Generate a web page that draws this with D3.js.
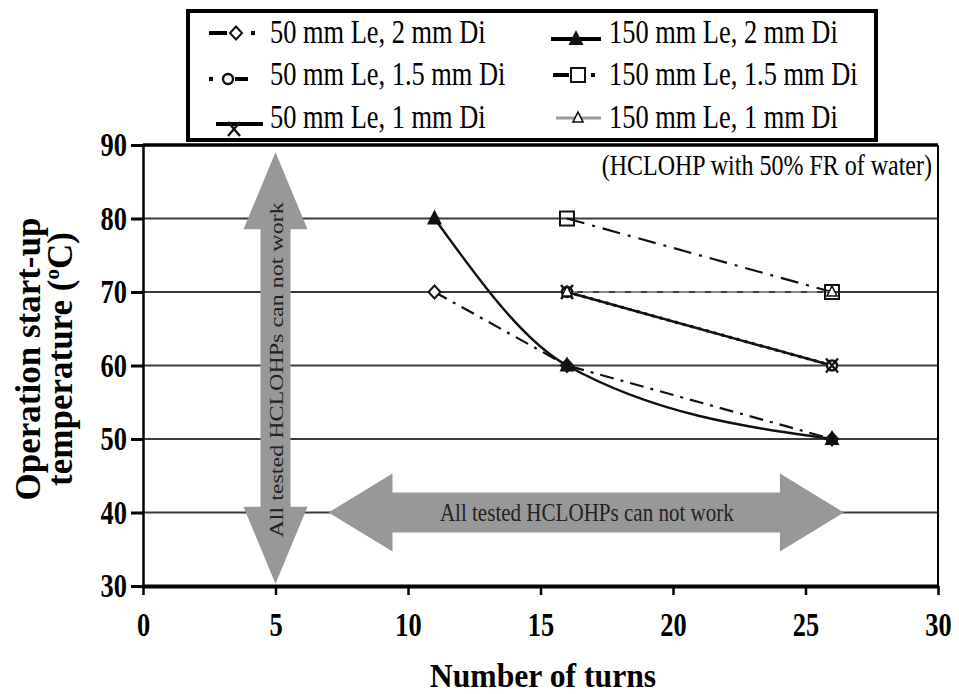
<!DOCTYPE html>
<html>
<head>
<meta charset="utf-8">
<script src="https://cdn.jsdelivr.net/npm/d3@7"></script>
<style>
  body { margin: 0; background: #fff; }
  svg { font-family: "Liberation Serif", "Times New Roman", serif; }
</style>
</head>
<body>
<div id="chart"></div>
<script>
// data
const xTicks = [0, 5, 10, 15, 20, 25, 30];
const yTicks = [30, 40, 50, 60, 70, 80, 90];
const turnsThree = [11, 16, 26];
const turnsTwo = [16, 26];
const le50di2 = [70, 60, 50];
const le150di2 = [80, 60, 50];
const le50di15 = [70, 60];
const le150di15 = [80, 70];
const le50di1 = [70, 60];
const le150di1 = [70, 70];
const seriesNames = ["50 mm Le, 2 mm Di", "150 mm Le, 2 mm Di",
  "50 mm Le, 1.5 mm Di", "150 mm Le, 1.5 mm Di",
  "50 mm Le, 1 mm Di", "150 mm Le, 1 mm Di"];
const arrowText = "All tested HCLOHPs can not work";

const svgWidth = 959;
const svgHeight = 694;
const margin = { top: 145, right: 21, bottom: 108, left: 143 };
const width = svgWidth - margin.left - margin.right;
const height = svgHeight - margin.top - margin.bottom;

// the original figure is squeezed sideways, so horizontal text is narrowed
const squeeze = 0.8;

const svg = d3.select("#chart").append("svg")
  .attr("width", svgWidth)
  .attr("height", svgHeight);

const chartGroup = svg.append("g")
  .attr("transform", `translate(${margin.left}, ${margin.top})`);

const x = d3.scaleLinear().domain([0, 30]).range([0, width]);
const y = d3.scaleLinear().domain([30, 90]).range([height, 0]);

// gridlines
chartGroup.selectAll(".grid")
  .data(yTicks.filter(d => d > 30 && d < 90))
  .enter().append("line")
  .attr("x1", 0).attr("x2", width)
  .attr("y1", d => y(d)).attr("y2", d => y(d))
  .attr("stroke", "#3a3a3a").attr("stroke-width", 2);

// grey double arrows
function vArrow(cx, yTop, yBot) {
  const px = x(cx), t = y(yTop), b = y(yBot);
  const sw = 15, hw = 32, hl = 77;
  return `M${px},${t} L${px + hw},${t + hl} L${px + sw},${t + hl} L${px + sw},${b - hl} L${px + hw},${b - hl} ` +
    `L${px},${b} L${px - hw},${b - hl} L${px - sw},${b - hl} L${px - sw},${t + hl} L${px - hw},${t + hl} Z`;
}
function hArrow(cy, xl, xr) {
  const py = y(cy), l = x(xl), r = x(xr);
  const sw = 20, hw = 39, hl = 64;
  return `M${l},${py} L${l + hl},${py - hw} L${l + hl},${py - sw} L${r - hl},${py - sw} L${r - hl},${py - hw} ` +
    `L${r},${py} L${r - hl},${py + hw} L${r - hl},${py + sw} L${l + hl},${py + sw} L${l + hl},${py + hw} Z`;
}
chartGroup.append("path").attr("d", vArrow(5, 89.0, 30.3)).attr("fill", "#989898");
chartGroup.append("path").attr("d", hArrow(40, 7.0, 26.45)).attr("fill", "#989898");

chartGroup.append("text")
  .attr("transform", `translate(${x(5) + 7}, ${y(59.4)}) scale(${squeeze},1) rotate(-90)`)
  .attr("text-anchor", "middle")
  .attr("font-size", 24)
  .attr("fill", "#222")
  .text(arrowText);
chartGroup.append("text")
  .attr("transform", `translate(${x(16.75)}, ${y(40) + 8}) scale(0.81,1)`)
  .attr("text-anchor", "middle")
  .attr("font-size", 26)
  .attr("fill", "#222")
  .text(arrowText);

// series
const series = [
  { name: seriesNames[0], xs: turnsThree, ys: le50di2, dash: "14,7,3,7", color: "#111", w: 2.2, curve: d3.curveLinear, mark: "diamond" },
  { name: seriesNames[1], xs: turnsThree, ys: le150di2, dash: null, color: "#111", w: 2.4, curve: d3.curveMonotoneX, mark: "triFill" },
  { name: seriesNames[2], xs: turnsTwo, ys: le50di15, dash: "3,5", color: "#111", w: 3, curve: d3.curveLinear, mark: "circle" },
  { name: seriesNames[3], xs: turnsTwo, ys: le150di15, dash: "18,8,3,8", color: "#111", w: 2.2, curve: d3.curveLinear, mark: "square" },
  { name: seriesNames[4], xs: turnsTwo, ys: le50di1, dash: null, color: "#111", w: 2.4, curve: d3.curveLinear, mark: "cross" },
  { name: seriesNames[5], xs: turnsTwo, ys: le150di1, dash: "10,6", color: "#888", w: 2, curve: d3.curveLinear, mark: "triOpen" }
];

function drawMark(g, type, px, py) {
  if (type === "diamond") {
    g.append("path").attr("d", `M${px},${py - 6.5} L${px + 6},${py} L${px},${py + 6.5} L${px - 6},${py} Z`)
      .attr("fill", "#fff").attr("stroke", "#111").attr("stroke-width", 2);
  } else if (type === "triFill") {
    g.append("path").attr("d", `M${px},${py - 9} L${px + 7.5},${py + 6} L${px - 7.5},${py + 6} Z`)
      .attr("fill", "#111");
  } else if (type === "circle") {
    g.append("circle").attr("cx", px).attr("cy", py).attr("r", 5)
      .attr("fill", "#fff").attr("stroke", "#111").attr("stroke-width", 2.4);
  } else if (type === "square") {
    g.append("rect").attr("x", px - 7).attr("y", py - 7).attr("width", 14).attr("height", 14)
      .attr("fill", "#fff").attr("stroke", "#111").attr("stroke-width", 2);
  } else if (type === "cross") {
    g.append("path").attr("d", `M${px - 6},${py - 7} L${px + 6},${py + 7} M${px + 6},${py - 7} L${px - 6},${py + 7}`)
      .attr("stroke", "#111").attr("stroke-width", 2.4);
  } else if (type === "triOpen") {
    g.append("path").attr("d", `M${px},${py - 6} L${px + 5},${py + 4} L${px - 5},${py + 4} Z`)
      .attr("fill", "#fff").attr("stroke", "#111").attr("stroke-width", 1.6);
  }
}

const line = d3.line();
series.forEach(s => {
  const pts = s.xs.map((d, i) => [x(d), y(s.ys[i])]);
  chartGroup.append("path")
    .attr("d", line.curve(s.curve)(pts))
    .attr("fill", "none")
    .attr("stroke", s.color)
    .attr("stroke-width", s.w)
    .attr("stroke-dasharray", s.dash);
});
series.forEach(s => {
  s.xs.forEach((d, i) => {
    if (s.mark === "square") {
      chartGroup.append("rect")
        .attr("x", x(d) - 7).attr("y", y(s.ys[i]) - 7).attr("width", 14).attr("height", 14)
        .attr("fill", "none").attr("stroke", "#111").attr("stroke-width", 2);
    } else {
      drawMark(chartGroup, s.mark, x(d), y(s.ys[i]));
    }
  });
});

// frame
chartGroup.append("line").attr("x1", 0).attr("x2", width).attr("y1", 0).attr("y2", 0)
  .attr("stroke", "#000").attr("stroke-width", 3.5);
chartGroup.append("line").attr("x1", width).attr("x2", width).attr("y1", 0).attr("y2", height)
  .attr("stroke", "#000").attr("stroke-width", 2);

// axes
const bottomAxis = d3.axisBottom(x).tickValues(xTicks).tickSize(9).tickSizeOuter(0);
const leftAxis = d3.axisLeft(y).tickValues(yTicks).tickSize(12).tickSizeOuter(0).tickPadding(8);

const xAxis = chartGroup.append("g")
  .attr("transform", `translate(0, ${height})`)
  .call(bottomAxis);
xAxis.select(".domain").attr("stroke-width", 4);
xAxis.selectAll(".tick line").attr("stroke-width", 2.5);

const yAxis = chartGroup.append("g").call(leftAxis);
yAxis.select(".domain").attr("stroke-width", 2.5);
yAxis.selectAll(".tick line").attr("stroke-width", 3);

svg.selectAll(".tick text")
  .attr("font-family", "Liberation Serif")
  .attr("font-weight", "bold")
  .attr("font-size", 33)
  .attr("fill", "#000")
  .attr("transform", `scale(${squeeze},1)`);
xAxis.selectAll(".tick text").attr("y", 50).attr("dy", 0);

// axis titles
svg.append("text")
  .attr("transform", "translate(543, 687) scale(0.96,1)")
  .attr("text-anchor", "middle")
  .attr("font-weight", "bold").attr("font-size", 33)
  .text("Number of turns");

const yTitle = svg.append("text")
  .attr("transform", "translate(0, 359) rotate(-90)")
  .attr("text-anchor", "middle")
  .attr("font-weight", "bold").attr("font-size", 35);
yTitle.append("tspan").attr("x", 0).attr("y", 40).text("Operation start-up");
const t2 = yTitle.append("tspan").attr("x", 0).attr("y", 72).text("temperature (");
t2.append("tspan").attr("font-size", 21).attr("dy", -13).text("o");
t2.append("tspan").attr("dy", 13).text("C)");

// note
svg.append("text")
  .attr("transform", `translate(932, 175) scale(${squeeze},1)`)
  .attr("text-anchor", "end")
  .attr("font-size", 30)
  .text("(HCLOHP with 50% FR of water)");

// legend
const legend = svg.append("g");
legend.append("rect")
  .attr("x", 188).attr("y", 11).attr("width", 688).attr("height", 129)
  .attr("fill", "#fff").attr("stroke", "#000").attr("stroke-width", 4);

const legRows = [43, 85, 128];
// symbol pieces per entry: line segments, small dots, marker position
const legSymbols = [
  { y: 33, segs: [[209, 227]], dots: [253], mark: 236 },
  { y: 39, segs: [[551, 601]], dots: [], mark: 576 },
  { y: 79, segs: [[235, 248]], dots: [211], mark: 228 },
  { y: 75, segs: [[553, 569]], dots: [593], mark: 578 },
  { y: 124, segs: [[216, 263]], dots: [], mark: 234 },
  { y: 118, segs: [[556, 601]], dots: [], mark: 578 }
];
series.forEach((s, i) => {
  const sym = legSymbols[i];
  sym.segs.forEach(sg => {
    legend.append("line")
      .attr("x1", sg[0]).attr("x2", sg[1])
      .attr("y1", sym.y).attr("y2", sym.y)
      .attr("stroke", s.color === "#888" ? "#999" : "#000")
      .attr("stroke-width", s.color === "#888" ? 3 : 4);
  });
  sym.dots.forEach(dx => {
    legend.append("rect")
      .attr("x", dx - 2).attr("y", sym.y - 2).attr("width", 4).attr("height", 4)
      .attr("fill", "#000");
  });
  drawMark(legend, s.mark, sym.mark, sym.y + (s.mark === "cross" ? 5 : 0));
  legend.append("text")
    .attr("transform", `translate(${i % 2 ? 609 : 270}, ${legRows[Math.floor(i / 2)]}) scale(${squeeze},1)`)
    .attr("font-size", 33)
    .text(s.name);
});
</script>
</body>
</html>
